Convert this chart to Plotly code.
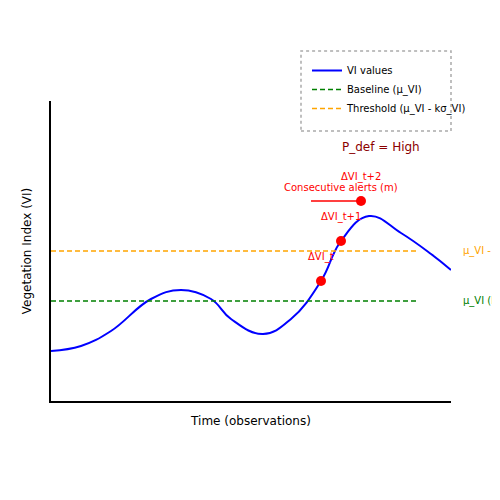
import plotly.graph_objects as go

t = [0, 0.75, 1.5, 2.5, 3.25, 4, 4.5, 5.3, 6, 6.75, 7.25, 7.95, 8.75, 9.5, 10]
vi = [1.0, 1.1, 1.4, 2.04, 2.22, 2.04, 1.64, 1.34, 1.64, 2.4, 3.2, 3.7, 3.36, 2.94, 2.62]
baseline = 2.0
threshold = 3.0
line_end = 9.2
alert_t = [6.75, 7.25, 7.75]
alert_v = [2.4, 3.2, 4.0]
alert_labels = ["ΔVI_t", "ΔVI_t+1", "ΔVI_t+2"]

fig = go.Figure()
fig.add_trace(go.Scatter(x=t, y=vi, mode="lines", line=dict(color="blue", width=2, shape="spline", smoothing=1.2), name="VI values"))
fig.add_trace(go.Scatter(x=[0, line_end], y=[baseline]*2, mode="lines", line=dict(color="green", width=1.5, dash="5px,3px"), name="Baseline (μ_VI)"))
fig.add_trace(go.Scatter(x=[0, line_end], y=[threshold]*2, mode="lines", line=dict(color="orange", width=1.5, dash="5px,3px"), name="Threshold (μ_VI - kσ_VI)"))
fig.add_trace(go.Scatter(x=[alert_t[1]-0.75, alert_t[2]], y=[alert_v[2]]*2, mode="lines", line=dict(color="red", width=1.5), showlegend=False))
fig.add_trace(go.Scatter(x=alert_t, y=alert_v, mode="markers", marker=dict(color="red", size=10), showlegend=False))

ann = []
for xx, yy, lab in zip(alert_t, alert_v, alert_labels):
    ann.append(dict(x=xx, y=yy, text=lab, showarrow=False, yshift=24, font=dict(color="red", size=10)))
ann.append(dict(x=alert_t[1], y=alert_v[2], text="Consecutive alerts (m)", showarrow=False, yshift=14, font=dict(color="red", size=10)))
ann.append(dict(x=8.25, y=5.08, text="P_def = High", showarrow=False, font=dict(color="darkred", size=12)))
ann.append(dict(xref="paper", x=1.025, y=threshold, text="μ_VI - kσ_VI", showarrow=False, xanchor="left", font=dict(color="orange", size=10)))
ann.append(dict(xref="paper", x=1.025, y=baseline, text="μ_VI (baseline)", showarrow=False, xanchor="left", font=dict(color="green", size=10)))

fig.update_layout(
    width=500, height=500, margin=dict(l=43, r=57, t=93, b=107),
    plot_bgcolor="white", paper_bgcolor="white",
    font=dict(family="DejaVu Sans", color="black", size=12),
    annotations=ann,
    shapes=[dict(type="rect", xref="paper", yref="paper", x0=0.625, x1=1.0, y0=0.9, y1=1.167,
                 line=dict(color="#aaaaaa", width=1.5, dash="dot"), layer="below")],
    legend=dict(x=0.64, y=1.15, xanchor="left", yanchor="top", borderwidth=0,
                font=dict(size=10), bgcolor="rgba(0,0,0,0)", tracegroupgap=2),
    xaxis=dict(range=[0, 10], showticklabels=False, ticks="", showgrid=False, zeroline=False, automargin=False,
               showline=True, linecolor="black", linewidth=1.5, title=dict(text="Time (observations)", font=dict(size=12))),
    yaxis=dict(range=[0, 6], showticklabels=False, ticks="", showgrid=False, zeroline=False, automargin=False,
               showline=True, linecolor="black", linewidth=1.5, title=dict(text="Vegetation Index (VI)", font=dict(size=12))),
)
fig.write_html("out.html")
